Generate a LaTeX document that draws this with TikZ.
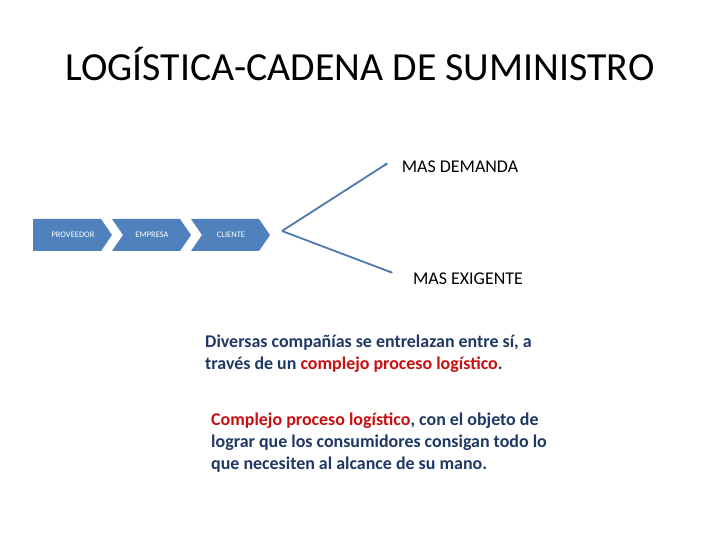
\documentclass[tikz,border=0pt]{standalone}
\usepackage{fontspec}
\setmainfont{Carlito}
\usetikzlibrary{arrows.meta}
\definecolor{chevblue}{RGB}{79,129,189}
\definecolor{lineblue}{RGB}{78,122,174}
\definecolor{textblue}{RGB}{31,56,100}
\definecolor{textred}{RGB}{200,16,16}
\tikzset{
  chevtext/.style={text=white,font=\fontsize{8.5}{10}\selectfont,inner sep=0pt},
  conn/.style={lineblue,line width=1.8bp,-{Stealth[length=4bp,width=3.5bp]}},
  para/.style={text=textblue,font=\bfseries\fontsize{18}{22}\selectfont,align=left,inner sep=0pt,anchor=base west}
}
\begin{document}
\begin{tikzpicture}[x=1bp,y=-1bp]
\fill[white] (0,0) rectangle (720,540);
\useasboundingbox (0,0) rectangle (720,540);
% title
\node (title) at (360,64) {\fontsize{40}{48}\selectfont LOGÍSTICA-CADENA DE SUMINISTRO};
% chain of chevrons
\fill[chevblue] plot coordinates {(33,219) (101,219) (112,235) (101,251) (33,251)};
\fill[chevblue] plot coordinates {(112,219) (180,219) (191,235) (180,251) (112,251) (123,235)};
\fill[chevblue] plot coordinates {(191,219) (259,219) (270,235) (259,251) (191,251) (202,235)};
\node[chevtext] (prov) at (73,235) {PROVEEDOR};
\node[chevtext] (emp) at (152,235) {EMPRESA};
\node[chevtext] (cli) at (231,235) {CLIENTE};
% branches
\coordinate (apex) at (282,231);
\coordinate (up) at (388,163);
\coordinate (down) at (393,273);
\draw[conn] (apex) -- (up);
\draw[conn] (apex) -- (down);
\node[font=\fontsize{18}{22}\selectfont] (demanda) at (460,167) {MAS DEMANDA};
\node[font=\fontsize{18}{22}\selectfont] (exigente) at (468,279) {MAS EXIGENTE};
% texts (base = last line)
\node[para] (diversas) at (205,369) {Diversas compañías se entrelazan entre sí, a\\través de un \textcolor{textred}{complejo proceso logístico}.};
\node[para] (complejo) at (211,469) {\textcolor{textred}{Complejo proceso logístico}, con el objeto de\\lograr que los consumidores consigan todo lo\\que necesiten al alcance de su mano.};
\end{tikzpicture}
\end{document}
